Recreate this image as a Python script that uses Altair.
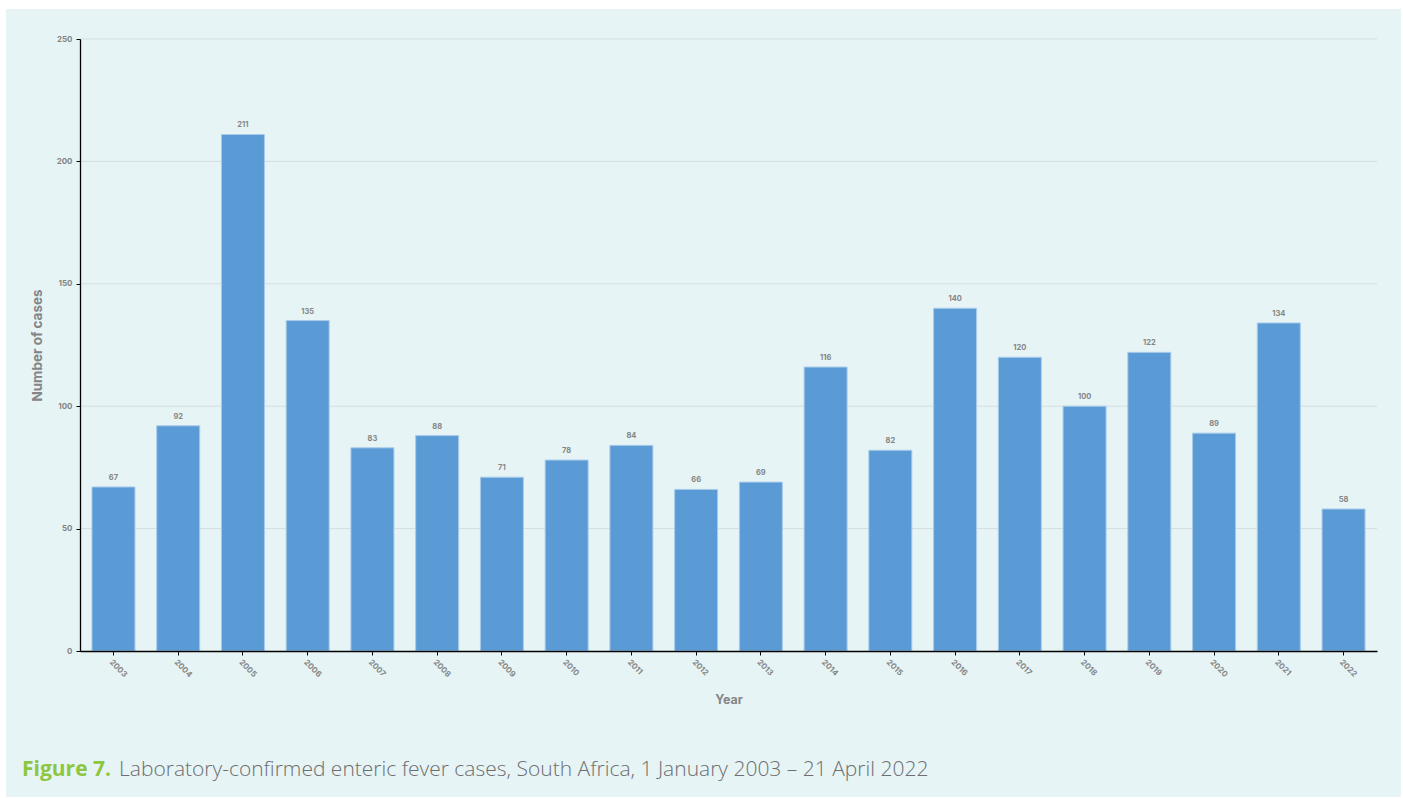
import altair as alt
import pandas as pd

years = ["2003", "2004", "2005", "2006", "2007", "2008", "2009", "2010", "2011", "2012",
         "2013", "2014", "2015", "2016", "2017", "2018", "2019", "2020", "2021", "2022"]
cases = [67, 92, 211, 135, 83, 88, 71, 78, 84, 66, 69, 116, 82, 140, 120, 100, 122, 89, 134, 58]
y_ticks = [0, 50, 100, 150, 200, 250]
caption_bold = "Figure 7."
caption_text = "Laboratory-confirmed enteric fever cases, South Africa, 1 January 2003 \u2013 21 April 2022"

df = pd.DataFrame({"Year": years, "Cases": cases})
grid_df = pd.DataFrame({"Cases": y_ticks[1:]})

W, H = 1297, 612
AX_FONT = "Inter"
GREY = "#858585"

y_scale = alt.Scale(domain=[0, 250], nice=False)

x_enc = alt.X("Year:N", sort=years,
              scale=alt.Scale(paddingInner=0.336, paddingOuter=0.185),
              axis=alt.Axis(title="Year", labelAngle=45, labelAlign="left", labelBaseline="top",
                            labelFont=AX_FONT, labelFontSize=8, labelFontWeight="bold",
                            labelColor=GREY, labelPadding=3,
                            titleFont=AX_FONT, titleFontSize=12.5, titleFontWeight="bold",
                            titleColor=GREY, titlePadding=15,
                            domainColor="#000000", domainWidth=1.3,
                            tickColor="#000000", tickSize=4, grid=False, zindex=2))
y_enc = alt.Y("Cases:Q", scale=y_scale,
              axis=alt.Axis(title="Number of cases", values=y_ticks,
                            labelFont=AX_FONT, labelFontSize=8, labelFontWeight="bold",
                            labelColor=GREY, labelPadding=4,
                            titleFont=AX_FONT, titleFontSize=13.5, titleFontWeight="bold",
                            titleColor=GREY, titlePadding=12,
                            domainColor="#000000", domainWidth=1.3,
                            tickColor="#000000", tickSize=4,
                            grid=False, zindex=2))

panel = alt.Chart(alt.Data(values=[{"k": 1}])).mark_rect(color="#e6f4f5").encode(
    x=alt.value(-74), x2=alt.value(1321), y=alt.value(-30), y2=alt.value(758)
)

grid = alt.Chart(grid_df).mark_rule(color="#d6dde0", strokeWidth=1).encode(
    y=alt.Y("Cases:Q", scale=y_scale), x=alt.value(0), x2=alt.value(W)
)

bars = alt.Chart(df).mark_bar(color="#5b9bd5", stroke="#a9cbeb", strokeWidth=1).encode(
    x=x_enc, y=y_enc
)

labels = alt.Chart(df).mark_text(dy=-5, font=AX_FONT, fontSize=7.5, fontWeight="bold",
                                 color=GREY, baseline="bottom").encode(
    x=alt.X("Year:N", sort=years), y=alt.Y("Cases:Q", scale=y_scale), text="Cases:Q"
)

cap1 = alt.Chart(alt.Data(values=[{"t": caption_bold}])).mark_text(
    font="Open Sans", fontSize=21, fontWeight="bold", color="#8dc63f",
    align="left", baseline="alphabetic"
).encode(x=alt.value(-58), y=alt.value(737), text="t:N")

cap2 = alt.Chart(alt.Data(values=[{"t": caption_text}])).mark_text(
    font="Open Sans", fontSize=21, fontWeight=300, color="#6d6e71",
    align="left", baseline="alphabetic"
).encode(x=alt.value(39), y=alt.value(737), text="t:N")

chart = alt.layer(panel, grid, bars, labels, cap1, cap2).properties(
    width=W, height=H,
    autosize=alt.AutoSizeParams(type="none"),
    padding={"left": 80, "top": 39, "right": 26, "bottom": 147},
    background="#ffffff",
).configure_view(stroke=None)

chart.save("out.html", embed_options={"renderer": "svg", "actions": False})
